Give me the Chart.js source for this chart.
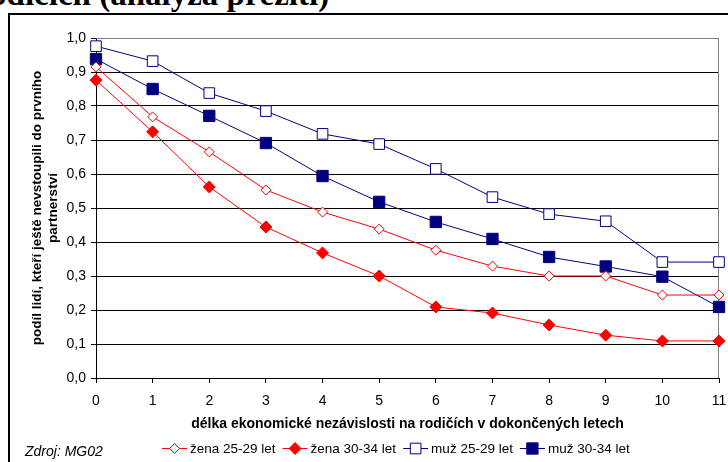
<!DOCTYPE html>
<html>
<head>
<meta charset="utf-8">
<script src="https://cdn.jsdelivr.net/npm/chart.js@4"></script>
<style>
  body { margin: 0; background: #fff; overflow: hidden; }
  #wrap { position: relative; width: 728px; height: 462px; overflow: hidden; }
  #title { position: absolute; left: -24px; top: -22px; font: bold 33px/1 "Liberation Serif", serif; color: #000; white-space: nowrap; }
  #frame { position: absolute; left: 8px; top: 13px; width: 740px; height: 470px; border: 2px solid #000; }
  #src { position: absolute; left: 25px; top: 443px; font: italic 14px/16px "Liberation Sans", Arial, sans-serif; color: #000; }
  canvas { position: absolute; left: 0; top: 0; }
</style>
</head>
<body>
<div id="wrap">
  <div id="title">rodičích (analýza přežití)</div>
  <div id="frame"></div>
  <canvas id="myChart" width="728" height="462"></canvas>
  <div id="src">Zdroj: MG02</div>
</div>
<script>
const years = [0, 1, 2, 3, 4, 5, 6, 7, 8, 9, 10, 11];
const zena2529 = [0.915, 0.768, 0.665, 0.553, 0.488, 0.438, 0.376, 0.329, 0.300, 0.300, 0.244, 0.244];
const zena3034 = [0.876, 0.724, 0.562, 0.444, 0.368, 0.300, 0.209, 0.191, 0.156, 0.126, 0.109, 0.109];
const muz2529 = [0.976, 0.932, 0.838, 0.785, 0.718, 0.688, 0.615, 0.532, 0.482, 0.461, 0.341, 0.341];
const muz3034 = [0.938, 0.850, 0.771, 0.691, 0.594, 0.518, 0.459, 0.409, 0.356, 0.328, 0.298, 0.209];

const font = '"Liberation Sans", Arial, sans-serif';
const red = '#ff0000';
const navy = '#000080';

function series(label, data, color, style, radius, filled) {
  return {
    label: label,
    data: data,
    borderColor: color,
    borderWidth: 1,
    backgroundColor: filled ? color : '#fff',
    pointStyle: style,
    pointRadius: radius,
    pointHoverRadius: radius,
    pointBorderColor: color,
    pointBackgroundColor: filled ? color : '#fff',
    pointBorderWidth: 1,
    tension: 0
  };
}

// grey plot-area border (top + right), like Excel
const plotBorder = {
  id: 'plotBorder',
  beforeDatasetsDraw(chart) {
    const a = chart.chartArea, g = chart.ctx;
    g.save();
    g.strokeStyle = '#808080';
    g.lineWidth = 1;
    g.beginPath();
    g.moveTo(a.left, a.top + 0.5);
    g.lineTo(a.right - 0.5, a.top + 0.5);
    g.lineTo(a.right - 0.5, a.bottom);
    g.stroke();
    g.restore();
  }
};

// legend drawn by hand: line + marker, then text
const lineLegend = {
  id: 'lineLegend',
  afterDraw(chart) {
    const g = chart.ctx;
    const y = 448.5;
    let x = 162;
    g.save();
    g.font = '13.5px ' + font;
    g.textBaseline = 'middle';
    chart.data.datasets.forEach(d => {
      g.strokeStyle = d.borderColor;
      g.lineWidth = 1;
      g.beginPath(); g.moveTo(x, y); g.lineTo(x + 25, y); g.stroke();
      const cx = x + 12.5;
      g.fillStyle = d.pointBackgroundColor;
      g.beginPath();
      if (d.pointStyle === 'rectRot') {
        const r = d.pointRadius;
        g.moveTo(cx, y - r); g.lineTo(cx + r, y); g.lineTo(cx, y + r); g.lineTo(cx - r, y); g.closePath();
      } else {
        const s = Math.SQRT1_2 * d.pointRadius;
        g.rect(cx - s, y - s, 2 * s, 2 * s);
      }
      g.fill(); g.stroke();
      g.fillStyle = '#000';
      g.fillText(d.label, x + 28, y + 1);
      x += 28 + g.measureText(d.label).width + 7;
    });
    g.restore();
  }
};

const ctx = document.getElementById('myChart').getContext('2d');

new Chart(ctx, {
  type: 'line',
  data: {
    labels: years,
    datasets: [
      series('žena 25-29 let', zena2529, red, 'rectRot', 5, false),
      series('žena 30-34 let', zena3034, red, 'rectRot', 6, true),
      series('muž 25-29 let', muz2529, navy, 'rect', 7.5, false),
      series('muž 30-34 let', muz3034, navy, 'rect', 8, true)
    ]
  },
  options: {
    responsive: false,
    animation: false,
    layout: { padding: { left: 14, top: 38, right: 9, bottom: 0 } },
    plugins: {
      legend: { display: false },
      tooltip: { enabled: false }
    },
    scales: {
      x: {
        type: 'category',
        offset: false,
        afterFit(scale) {
          scale.height = 84;
          scale.paddingLeft = 0;
          scale.paddingRight = 0;
        },
        grid: { drawOnChartArea: false, drawTicks: true, tickLength: 5, color: '#000' },
        border: { color: '#000' },
        ticks: { font: { family: font, size: 14 }, color: '#000', padding: 10, maxRotation: 0 },
        title: {
          display: true,
          text: 'délka ekonomické nezávislosti na rodičích v dokončených letech',
          font: { family: font, size: 14, weight: 'bold' },
          color: '#000',
          padding: { top: 6, bottom: 29 }
        }
      },
      y: {
        min: 0,
        max: 1,
        afterFit(scale) { scale.width = 82; },
        grid: {
          color: c => (c.tick && c.tick.value === 1 ? '#808080' : '#000'),
          tickLength: 5,
          tickColor: '#000'
        },
        border: { color: '#000' },
        ticks: {
          stepSize: 0.1,
          font: { family: font, size: 14 },
          color: '#000',
          padding: 5,
          callback: v => v.toFixed(1).replace('.', ',')
        },
        title: {
          display: true,
          text: ['podíl lidí, kteří ještě nevstoupili do prvního', 'partnerství'],
          font: { family: font, size: 13.5, weight: 'bold' },
          color: '#000',
          padding: { top: 15, bottom: 0 }
        }
      }
    }
  },
  plugins: [plotBorder, lineLegend]
});
</script>
</body>
</html>
